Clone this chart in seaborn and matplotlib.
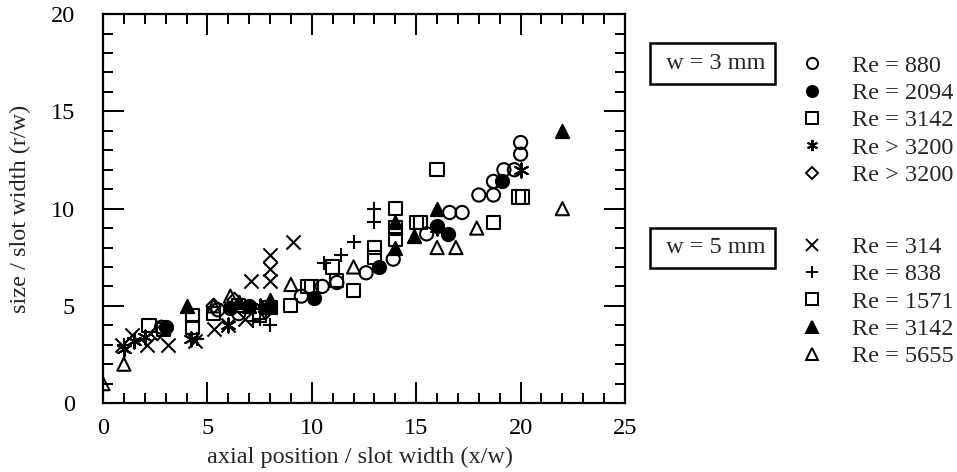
import matplotlib
matplotlib.use("Agg")
import matplotlib.pyplot as plt
import seaborn as sns
from matplotlib.ticker import MultipleLocator

# w = 3 mm
re880_x = [2.8, 5.5, 6.5, 9.5, 10.5, 11.2, 12.6, 13.9, 15.5, 16.6, 17.2, 18.0, 18.7, 18.7, 19.2, 19.7, 20.0, 20.0]
re880_y = [3.9, 4.8, 4.6, 5.5, 6.0, 6.2, 6.7, 7.4, 8.7, 9.8, 9.8, 10.7, 10.7, 11.4, 12.0, 12.0, 12.8, 13.4]
re2094_x = [3.0, 6.1, 7.0, 10.1, 13.2, 16.0, 16.5, 19.1]
re2094_y = [3.9, 4.9, 5.0, 5.4, 7.0, 9.1, 8.7, 11.4]
re3142a_x = [2.2, 5.3, 9.0, 10.0, 11.2, 12.0, 13.0, 13.0, 14.0, 14.0, 15.0, 16.0, 18.7, 19.9, 20.1]
re3142a_y = [4.0, 4.6, 5.0, 6.0, 6.3, 5.8, 7.5, 8.0, 9.0, 10.0, 9.3, 12.0, 9.3, 10.6, 10.6]
re3200a_x = [1.0, 1.5, 2.0, 4.2, 6.0, 7.5, 16.0, 20.0]
re3200a_y = [2.8, 3.2, 3.4, 3.3, 4.0, 5.0, 9.0, 12.0]
re3200b_x = [2.6, 5.3, 6.3, 7.8]
re3200b_y = [3.6, 5.0, 5.3, 4.7]

# w = 5 mm
re314_x = [0.9, 1.4, 2.1, 3.1, 4.4, 5.3, 6.0, 6.8, 7.1, 8.0, 8.0, 8.0, 9.1]
re314_y = [3.0, 3.5, 3.0, 3.0, 3.2, 3.8, 4.0, 4.3, 6.3, 6.3, 6.9, 7.6, 8.3]
re838_x = [1.0, 4.5, 7.2, 7.5, 8.0, 10.6, 11.4, 12.0, 13.0, 13.0]
re838_y = [3.0, 3.3, 4.2, 4.3, 4.0, 7.2, 7.6, 8.3, 9.3, 10.0]
re1571_x = [2.9, 4.3, 4.3, 6.5, 7.5, 8.0, 9.8, 11.0, 14.0, 15.2]
re1571_y = [3.8, 4.5, 3.9, 5.0, 4.5, 4.9, 6.0, 7.0, 8.4, 9.3]
re3142b_x = [4.0, 6.5, 7.0, 8.0, 8.0, 14.0, 14.0, 14.9, 16.0, 22.0]
re3142b_y = [5.0, 5.2, 5.0, 5.3, 5.0, 8.0, 9.3, 8.6, 10.0, 14.0]
re5655_x = [0.0, 1.0, 5.3, 6.1, 9.0, 12.0, 16.0, 16.9, 17.9, 22.0]
re5655_y = [1.0, 2.0, 5.0, 5.5, 6.1, 7.0, 8.0, 8.0, 9.0, 10.0]

sns.set_style("ticks")
plt.rcParams["font.family"] = ["Liberation Serif", "DejaVu Serif"]

fig = plt.figure(figsize=(9.57, 4.72), dpi=100)
ax = fig.add_axes([0.1076, 0.146, 0.5455, 0.824])

k = "black"
lw = 1.5
s = 90
series = [
    (re880_x, re880_y, "o", "none", "Re = 880"),
    (re2094_x, re2094_y, "o", k, "Re = 2094"),
    (re3142a_x, re3142a_y, "s", "none", "Re = 3142"),
    (re3200a_x, re3200a_y, (6, 2, 0), None, "Re > 3200"),
    (re3200b_x, re3200b_y, "D", "none", "Re > 3200"),
    (re314_x, re314_y, "x", None, "Re = 314"),
    (re838_x, re838_y, "+", None, "Re = 838"),
    (re1571_x, re1571_y, "s", "none", "Re = 1571"),
    (re3142b_x, re3142b_y, "^", k, "Re = 3142"),
    (re5655_x, re5655_y, "^", "none", "Re = 5655"),
]

handles = []
for xs, ys, m, fc, lab in series:
    size = s * 0.6 if m == "D" else s
    if fc is None:
        sns.scatterplot(x=xs, y=ys, marker=m, s=size * 1.15, color=k, linewidth=lw, ax=ax)
    else:
        sns.scatterplot(x=xs, y=ys, marker=m, s=size, facecolor=fc, edgecolor=k, linewidth=lw, ax=ax)
    ms = 6.5 if m == "D" else 8
    handles.append(plt.Line2D([], [], linestyle="none", marker=m, markersize=ms,
                              markerfacecolor=(k if fc == k else "none"),
                              markeredgecolor=k, markeredgewidth=1.4, label=lab))

ax.set_xlim(0, 25)
ax.set_ylim(0, 20)
ax.xaxis.set_major_locator(MultipleLocator(5))
ax.yaxis.set_major_locator(MultipleLocator(5))
ax.xaxis.set_minor_locator(MultipleLocator(1))
ax.yaxis.set_minor_locator(MultipleLocator(1))
ax.tick_params(which="both", direction="in", top=True, right=True, width=1.4, colors=k)
ax.tick_params(which="major", length=15, labelsize=17.5)
ax.tick_params(which="minor", length=7.5)
ax.tick_params(axis="x", which="major", pad=11)
ax.tick_params(axis="y", which="major", pad=20)
for sp in ax.spines.values():
    sp.set_linewidth(1.6)
    sp.set_color(k)

ax.set_xlabel("axial position / slot width (x/w)", fontsize=17.5)
ax.set_ylabel("size / slot width (r/w)", fontsize=17.5)
ax.xaxis.set_label_coords(0.492, -0.113)
ax.yaxis.set_label_coords(-0.138, 0.5)

box = dict(boxstyle="square,pad=0.4", facecolor="white", edgecolor=k, linewidth=1.8)
fig.text(0.7445, 0.8655, " w = 3 mm", fontsize=17.5, ha="center", va="center", bbox=box)
fig.text(0.7445, 0.4746, " w = 5 mm", fontsize=17.5, ha="center", va="center", bbox=box)

leg_kw = dict(frameon=False, fontsize=17.5, handletextpad=1.25, labelspacing=0.22,
              handlelength=0.8, borderpad=0, borderaxespad=0)
fig.legend(handles=handles[:5], loc="upper left", bbox_to_anchor=(0.8383, 0.884), **leg_kw)
fig.legend(handles=handles[5:], loc="upper left", bbox_to_anchor=(0.8383, 0.500), **leg_kw)

fig.savefig("out.png", dpi=100)
